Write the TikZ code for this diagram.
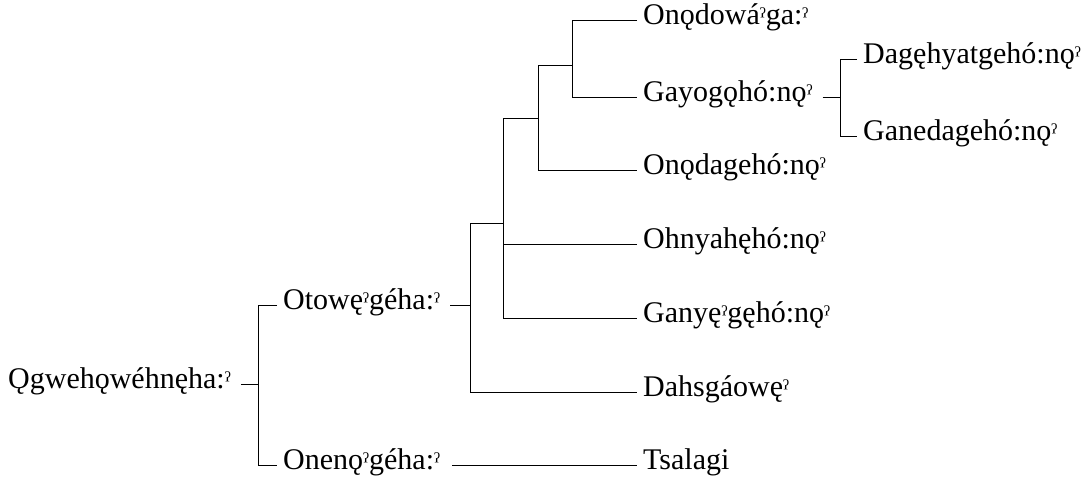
\documentclass[tikz,border=0pt]{standalone}
\usepackage{fontspec}
\setmainfont{Liberation Serif}
\newcommand\lblfont{\fontsize{30}{34}\selectfont}
% smaller glottal-stop mark
\newcommand\gs{{\fontsize{24}{24}\selectfont ˀ}}
\tikzset{
  lab/.style={anchor=west, inner xsep=6pt, inner ysep=0pt, font=\lblfont,
              text height=1.02em, text depth=0.1em},
  br/.style={line width=1pt, black}
}
\begin{document}
\begin{tikzpicture}[x=1pt, y=-1pt]
\useasboundingbox (0,0) rectangle (1086,483);

% labels
\node[lab] (ogw)  at (2,384)   {Ǫgwehǫwéhnęha:\gs};
\node[lab] (oto)  at (277,305) {Otowę\gs géha:\gs};
\node[lab] (one)  at (277,465) {Onenǫ\gs géha:\gs};
\node[lab] (ondo) at (637,20)  {Onǫdowá\gs ga:\gs};
\node[lab] (gay)  at (637,97)  {Gayogǫhó:nǫ\gs};
\node[lab] (dag)  at (857,59)  {Dagęhyatgehó:nǫ\gs};
\node[lab] (gane) at (857,136) {Ganedagehó:nǫ\gs};
\node[lab] (onda) at (637,170) {Onǫdagehó:nǫ\gs};
\node[lab] (ohn)  at (637,244) {Ohnyahęhó:nǫ\gs};
\node[lab] (gan)  at (637,318) {Ganyę\gs gęhó:nǫ\gs};
\node[lab] (dah)  at (637,392) {Dahsgáowę\gs};
\node[lab] (tsa)  at (637,465) {Tsalagi};

% branching points
\coordinate (r)  at (258,384);
\coordinate (n4) at (470,305);
\coordinate (n3) at (503,223);
\coordinate (n2) at (538,118);
\coordinate (n1) at (572,65);
\coordinate (g)  at (840,97);

% root bracket
\draw[br] ([xshift=4pt]ogw.east) -- (r);
\draw[br] (oto.west) -- (oto.west -| r) -- (one.west -| r) -- (one.west);
\draw[br] ([xshift=6pt]one.east) -- (tsa.west);

% Otowęˀgéha:ˀ subtree
\draw[br] ([xshift=4pt]oto.east) -- (n4);
\draw[br] (n3) -- (n3 -| n4) -- (dah.west -| n4) -- (dah.west);
\draw[br] (n2) -- (n2 -| n3) -- (gan.west -| n3) -- (gan.west);
\draw[br] (ohn.west) -- (ohn.west -| n3);
\draw[br] (n1) -- (n1 -| n2) -- (onda.west -| n2) -- (onda.west);
\draw[br] (ondo.west) -- (ondo.west -| n1) -- (gay.west -| n1) -- (gay.west);

% Gayogǫhó:nǫˀ subtree
\draw[br] ([xshift=4pt]gay.east) -- (g);
\draw[br] (dag.west) -- (dag.west -| g) -- (gane.west -| g) -- (gane.west);
\end{tikzpicture}
\end{document}
